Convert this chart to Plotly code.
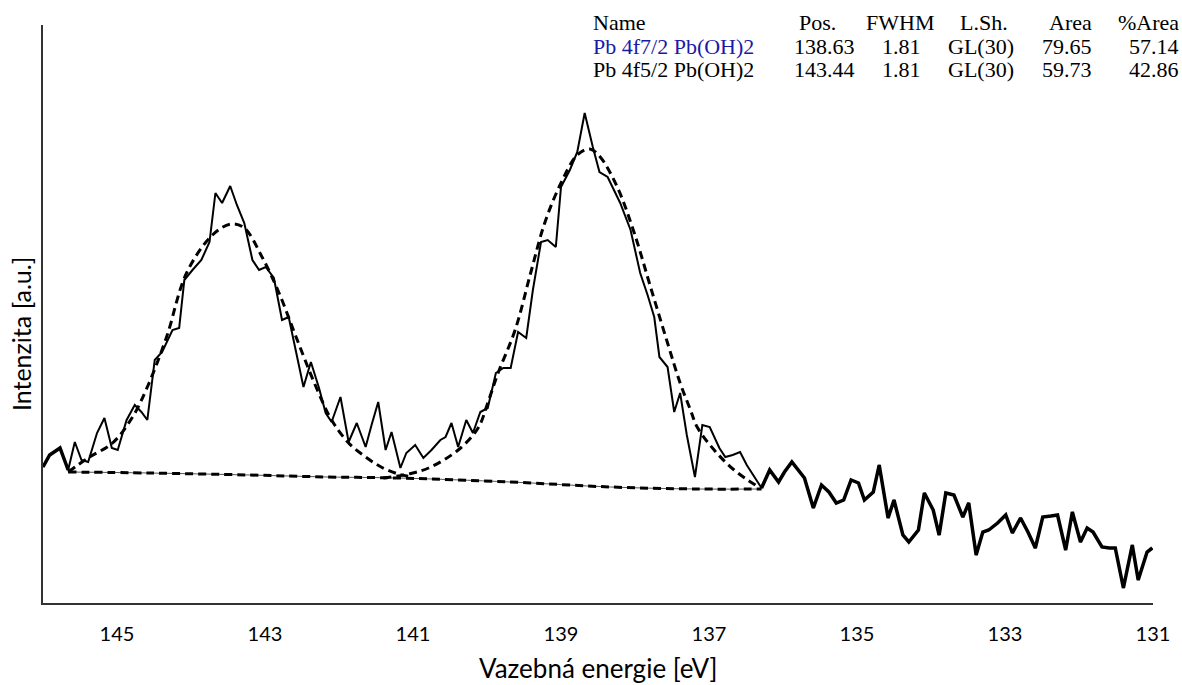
import plotly.graph_objects as go

# Pb 4f spectrum: measured points (binding energy in eV, intensity in a.u.)
energy_eV = [
    146.00, 145.91, 145.77, 145.66, 145.57, 145.48, 145.39, 145.27, 145.17, 145.07,
    144.99, 144.87, 144.76, 144.67, 144.59, 144.49, 144.39, 144.25, 144.16, 144.09,
    143.98, 143.86, 143.75, 143.67, 143.58, 143.47, 143.38, 143.28, 143.17, 143.08,
    142.99, 142.88, 142.77, 142.68, 142.58, 142.48, 142.38, 142.27, 142.18, 142.10,
    141.98, 141.87, 141.76, 141.64, 141.56, 141.47, 141.37, 141.29, 141.17, 141.09,
    140.97, 140.86, 140.75, 140.63, 140.56, 140.48, 140.39, 140.28, 140.19, 140.09,
    139.99, 139.88, 139.78, 139.68, 139.58, 139.47, 139.38, 139.27, 139.18, 139.07,
    139.00, 138.88, 138.78, 138.68, 138.57, 138.48, 138.37, 138.28, 138.20, 138.06,
    137.93, 137.83, 137.74, 137.67, 137.56, 137.47, 137.39, 137.30, 137.19, 137.09,
    136.99, 136.86, 136.78, 136.68, 136.58, 136.49, 136.38, 136.29, 136.18, 136.06,
    135.98, 135.88, 135.79, 135.71, 135.59, 135.48, 135.38, 135.28, 135.18, 135.08,
    134.98, 134.90, 134.78, 134.70, 134.58, 134.50, 134.38, 134.30, 134.17, 134.09,
    133.97, 133.89, 133.80, 133.69, 133.57, 133.49, 133.39, 133.30, 133.22, 133.10,
    132.99, 132.90, 132.79, 132.69, 132.59, 132.49, 132.38, 132.29, 132.18, 132.09,
    131.98, 131.89, 131.81, 131.69, 131.59, 131.51, 131.40, 131.28, 131.20, 131.08,
    131.01,
]
intensity = [
    136, 148, 155, 133, 161, 143, 141, 170, 185, 155,
    153, 183, 198, 191, 183, 243, 251, 273, 275, 323,
    333, 343, 361, 410, 400, 417, 398, 380, 343, 333,
    336, 325, 283, 286, 251, 216, 241, 215, 190, 181,
    206, 161, 180, 156, 178, 201, 153, 171, 135, 150,
    158, 145, 153, 163, 166, 180, 156, 183, 170, 191,
    195, 230, 235, 235, 271, 265, 313, 361, 363, 356,
    416, 433, 451, 490, 456, 431, 426, 413, 400, 373,
    330, 308, 286, 246, 236, 191, 210, 168, 126, 178,
    176, 155, 146, 148, 151, 138, 126, 115, 133, 121,
    131, 141, 133, 125, 95, 118, 111, 100, 103, 123,
    120, 103, 111, 138, 85, 103, 68, 61, 73, 110,
    93, 68, 110, 108, 86, 100, 48, 71, 73, 80,
    88, 70, 85, 71, 55, 86, 87, 88, 53, 91,
    61, 75, 71, 56, 55, 55, 15, 58, 23, 51,
    55,
]

# Fitted components (each on top of the Shirley background)
pb4f52_eV = [
    145.66, 145.37, 145.06, 144.79, 144.59, 144.33, 144.06, 143.71, 143.46, 143.28,
    143.04, 142.81, 142.58, 142.31, 142.10, 141.87, 141.64, 141.43, 141.20, 141.00,
]
pb4f52_fit = [
    131, 146, 160, 186, 216, 266, 330, 368, 379, 375,
    346, 310, 266, 216, 183, 160, 146, 136, 129, 126,
]
pb4f72_eV = [
    141.40, 141.06, 140.79, 140.39, 140.12, 139.99, 139.85, 139.62, 139.41, 139.22,
    139.00, 138.78, 138.61, 138.47, 138.24, 138.01, 137.79, 137.56, 137.39, 137.25,
    137.16, 136.93, 136.66, 136.31,
]
pb4f72_fit = [
    125, 129, 135, 153, 175, 200, 230, 273, 330, 380,
    420, 448, 454, 446, 416, 370, 316, 260, 220, 193,
    176, 153, 133, 115,
]
background_eV = [145.66, 144.56, 143.21, 142.14, 141.20, 139.68, 138.33, 137.16, 136.29]
background = [131, 130, 128, 126, 125, 121, 116, 114, 114]

# Fit table
table_header = ["Name", "Pos.", "FWHM", "L.Sh.", "Area", "%Area"]
table_rows = [
    ["Pb 4f7/2 Pb(OH)2", "138.63", "1.81", "GL(30)", "79.65", "57.14"],
    ["Pb 4f5/2 Pb(OH)2", "143.44", "1.81", "GL(30)", "59.73", "42.86"],
]
row_colors = ["#1a1aa6", "#000000"]

x_ticks = [145, 143, 141, 139, 137, 135, 133, 131]

fit_lo, fit_hi = background_eV[-1], background_eV[0]

fig = go.Figure()

# thin solid background line underneath the dashed one
fig.add_trace(go.Scatter(x=background_eV, y=background, mode="lines",
                         line=dict(color="#555555", width=1, shape="spline"),
                         hoverinfo="skip"))
fig.add_trace(go.Scatter(x=background_eV, y=background, mode="lines",
                         line=dict(color="black", width=3, dash="8px,5px", shape="spline")))
fig.add_trace(go.Scatter(x=pb4f52_eV, y=pb4f52_fit, mode="lines",
                         line=dict(color="black", width=3, dash="8px,5px", shape="spline")))
fig.add_trace(go.Scatter(x=pb4f72_eV, y=pb4f72_fit, mode="lines",
                         line=dict(color="black", width=3, dash="8px,5px", shape="spline")))

# raw data
fig.add_trace(go.Scatter(x=energy_eV, y=intensity, mode="lines",
                         line=dict(color="black", width=2)))

# outside the fit region the envelope coincides with the data -> heavier line
for keep in (lambda e: e >= fit_hi, lambda e: e <= fit_lo):
    xs = [e for e in energy_eV if keep(e)]
    ys = [v for e, v in zip(energy_eV, intensity) if keep(e)]
    fig.add_trace(go.Scatter(x=xs, y=ys, mode="lines",
                             line=dict(color="black", width=3.5)))

# pixel positions expressed in paper units
L, R, T, B = 43, 1157, 25, 603
W, H = R - L, B - T


def px(xp):
    return (xp - L) / W


def py(yp):
    return (B - yp) / H


serif = "Liberation Serif"
tsize = 22
header_x = [(593, "left"), (841, "right"), (939, "right"), (1013, "right"),
            (1098, "right"), (1185, "right")]
row_x = [(593, "left"), (860, "right"), (926, "right"), (1020, "right"),
         (1098, "right"), (1185, "right")]
row_y = [22, 46, 70]

annotations = []
for (xp, anc), txt in zip(header_x, table_header):
    annotations.append(dict(x=px(xp), y=py(row_y[0]), xref="paper", yref="paper",
                            text=txt, showarrow=False, xanchor=anc, yanchor="middle",
                            font=dict(family=serif, size=tsize, color="black")))
for r, (row, col) in enumerate(zip(table_rows, row_colors)):
    for c, ((xp, anc), txt) in enumerate(zip(row_x, row)):
        annotations.append(dict(x=px(xp), y=py(row_y[r + 1]), xref="paper", yref="paper",
                                text=txt, showarrow=False, xanchor=anc, yanchor="middle",
                                font=dict(family=serif, size=tsize,
                                          color=col if c == 0 else "black")))

sans = "Lato"
# axis titles
annotations.append(dict(x=px(600), y=py(668), xref="paper", yref="paper",
                        text="Vazebná energie [eV]", showarrow=False,
                        xanchor="center", yanchor="middle",
                        font=dict(family=sans, size=26, color="black")))
annotations.append(dict(x=px(21), y=py(334), xref="paper", yref="paper",
                        text="Intenzita [a.u.]", showarrow=False, textangle=-90,
                        xanchor="center", yanchor="middle",
                        font=dict(family=sans, size=25, color="black")))

fig.update_layout(
    width=1182, height=685,
    margin=dict(l=L, r=1182 - R, t=T, b=685 - B),
    paper_bgcolor="white", plot_bgcolor="white",
    showlegend=False,
    annotations=annotations,
    xaxis=dict(range=[146, 131], tickvals=x_ticks, ticks="", showgrid=False,
               zeroline=False, showline=True, linecolor="#333333", linewidth=2,
               ticklabelstandoff=12,
               tickfont=dict(family=sans, size=20, color="black")),
    yaxis=dict(range=[0, 578], showticklabels=False, ticks="", showgrid=False,
               zeroline=False, showline=True, linecolor="#333333", linewidth=2),
)

fig.write_html("out.html")
